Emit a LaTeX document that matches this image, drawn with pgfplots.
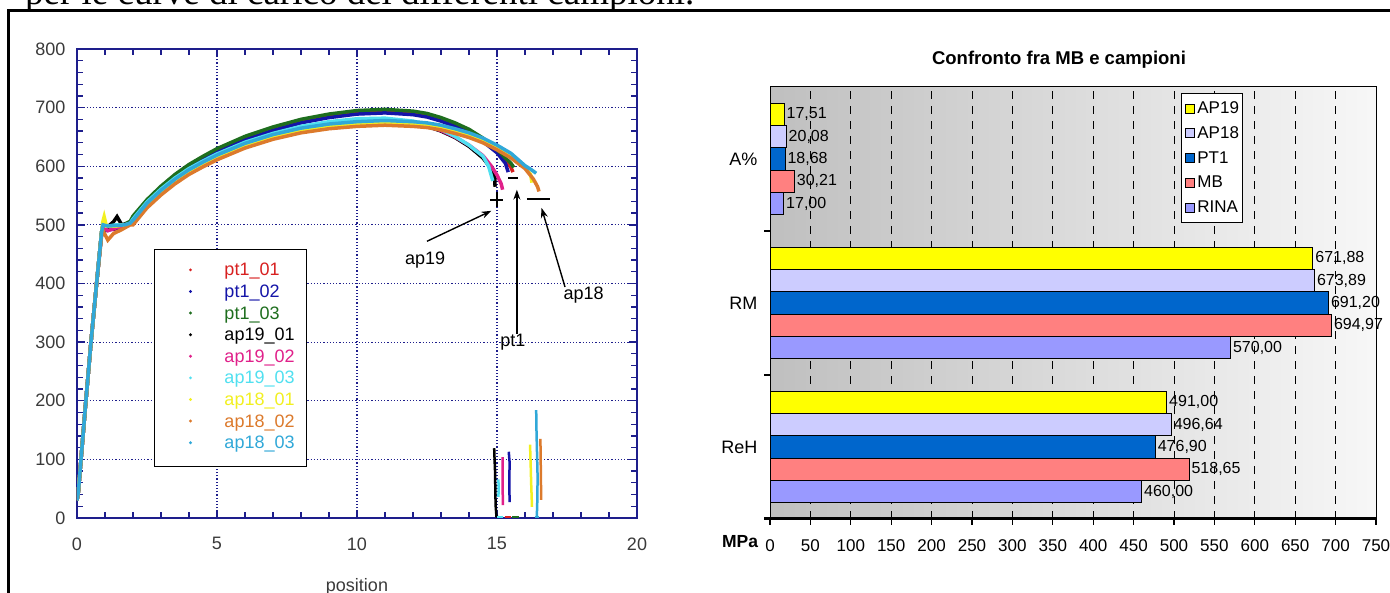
\documentclass[border=0pt]{standalone}
\usepackage{pgfplots}
\pgfplotsset{compat=1.18}
\usepackage{fontspec}
\setmainfont{Liberation Sans}
\newfontfamily\timesfont{Liberation Serif}
\usetikzlibrary{arrows.meta}
\definecolor{navyc}{HTML}{1E1E8C}
\definecolor{lbl}{HTML}{3A3A3A}
\definecolor{c1}{HTML}{D82020}
\definecolor{c2}{HTML}{1414A8}
\definecolor{c3}{HTML}{1E6E1E}
\definecolor{c4}{HTML}{000000}
\definecolor{c5}{HTML}{E0208A}
\definecolor{c6}{HTML}{50E0F0}
\definecolor{c7}{HTML}{F2F020}
\definecolor{c8}{HTML}{DC7A2C}
\definecolor{c9}{HTML}{30A8D8}
\definecolor{bAPnine}{HTML}{FFFF00}
\definecolor{bAPeight}{HTML}{CCCCFF}
\definecolor{bPT}{HTML}{0066CC}
\definecolor{bMB}{HTML}{FF8080}
\definecolor{bRINA}{HTML}{9999FF}
\begin{document}
\begin{tikzpicture}
% clipped caption line of the page
\node[anchor=base west, inner sep=0pt, font=\timesfont\fontsize{37}{40}\selectfont] at (25pt,588pt) {per le curve di carico dei differenti campioni.};

% ---------------- left chart ----------------
\begin{axis}[
  at={(77pt,75pt)}, anchor=south west, scale only axis,
  width=560pt, height=469pt,
  xmin=0, xmax=20, ymin=0, ymax=800,
  xtick={0,5,10,15,20}, ytick={0,100,...,800},
  minor x tick num=4, minor y tick num=4,
  tick align=inside,
  major tick length=8pt, minor tick length=6pt,
  axis line style={navyc, line width=1.8pt},
  tick style={navyc, line width=1.3pt},
  grid=major, grid style={navyc, line width=1.2pt, dotted},
  tick label style={font=\fontsize{18}{18}\selectfont, text=lbl},
  /pgf/number format/assume math mode=true,
  xticklabel style={yshift=-16pt}, yticklabel style={xshift=-8pt},
  xlabel={position},
  xlabel style={at={(axis description cs:0.5,0)}, anchor=base, yshift=-74pt, font=\fontsize{18}{18}\selectfont, text=lbl},
  legend style={at={(0.1375,0.5736)}, anchor=north west, draw=black, line width=1pt, fill=white,
    font=\fontsize{18}{18}\selectfont, inner xsep=12pt, inner ysep=13.5pt, row sep=4.8pt, column sep=10pt,
    nodes={inner sep=0pt, text height=13pt, text depth=3.8pt}},
  legend cell align=left,
  legend image code/.code={\path[draw=none,fill=none] (0pt,0pt) -- (48pt,0pt); \fill[#1, draw=none] (24pt,1.5pt) circle (1.6pt);},
]
\addplot[c1, line width=3.5pt] coordinates {(0,30) (0.05,45) (0.1,75) (0.3,190) (0.5,300) (0.7,400) (0.88,488) (0.93,500) (1.0,495) (1.3,492) (1.6,497) (1.9,503) (2,512) (2.5,540) (3,563) (3.5,583) (4,600) (4.5,614) (5,627) (6,648) (7,664) (8,677) (9,686) (10,692) (11,694) (12,691) (12.5,687) (13,680) (13.5,671) (14,660) (14.5,645) (15,626) (15.3,610) (15.5,598) (15.57,590)};
\addlegendentry{\textcolor{c1}{pt1\_01}}
\addplot[c2, line width=3.5pt] coordinates {(0,30) (0.05,45) (0.1,75) (0.3,190) (0.5,300) (0.7,400) (0.88,486) (0.93,498) (1.0,490) (1.3,493) (1.6,497) (1.9,502) (2,509) (2.5,537) (3,560) (3.5,580) (4,597) (4.5,611) (5,624) (6,645) (7,661) (8,674) (9,683) (10,689) (11,691) (12,688) (12.5,684) (13,677) (13.5,668) (14,657) (14.5,642) (15,623) (15.3,605) (15.4,590)};
\addlegendentry{\textcolor{c2}{pt1\_02}}
\addplot[c3, line width=3.5pt] coordinates {(0,30) (0.05,45) (0.1,75) (0.3,190) (0.5,300) (0.7,400) (0.88,488) (0.93,500) (1.0,496) (1.3,494) (1.6,499) (1.9,506) (2,515) (2.5,543) (3,566) (3.5,586) (4,603) (4.5,617) (5,630) (6,651) (7,667) (8,680) (9,689) (10,695) (11,697) (12,694) (12.5,690) (13,683) (13.5,674) (14,663) (14.5,648) (15,629) (15.3,614) (15.5,605) (15.6,598)};
\addlegendentry{\textcolor{c3}{pt1\_03}}
\addplot[c4, line width=3.5pt] coordinates {(0,30) (0.05,45) (0.1,75) (0.3,190) (0.5,300) (0.7,400) (0.88,488) (0.93,500) (1.1,497) (1.3,505) (1.43,514) (1.6,500) (1.9,503) (2,507) (2.5,536) (3,558) (3.5,577) (4,593) (4.5,606) (5,618) (6,638) (7,653) (8,664) (9,672) (10,677) (11,678) (12,673) (12.5,668) (13,660) (13.5,649) (14,634) (14.5,614) (14.85,592) (14.92,580) (14.93,565)};
\addlegendentry{\textcolor{c4}{ap19\_01}}
\addplot[c5, line width=3.5pt] coordinates {(0,30) (0.05,45) (0.1,75) (0.3,190) (0.5,300) (0.7,400) (0.88,486) (0.93,497) (1.1,490) (1.4,495) (1.7,498) (1.9,502) (2,505) (2.5,534) (3,556) (3.5,575) (4,591) (4.5,604) (5,616) (6,636) (7,651) (8,662) (9,670) (10,675) (11,676) (12,672) (12.5,668) (13,661) (13.5,650) (14,636) (14.5,618) (14.8,600) (15,585) (15.15,570) (15.2,560)};
\addlegendentry{\textcolor{c5}{ap19\_02}}
\addplot[c6, line width=3.5pt] coordinates {(0,30) (0.05,45) (0.1,75) (0.3,190) (0.5,300) (0.7,400) (0.88,488) (0.93,502) (1.1,498) (1.4,500) (1.7,500) (1.9,503) (2,510) (2.5,539) (3,561) (3.5,580) (4,596) (4.5,609) (5,621) (6,641) (7,656) (8,668) (9,676) (10,681) (11,682) (12,677) (12.5,671) (13,663) (13.5,651) (14,636) (14.5,617) (14.7,600) (14.85,575)};
\addlegendentry{\textcolor{c6}{ap19\_03}}
\addplot[c7, line width=3.5pt] coordinates {(0,30) (0.05,45) (0.1,75) (0.3,190) (0.5,300) (0.7,400) (0.88,488) (0.92,505) (0.97,514) (1.05,498) (1.4,498) (1.7,500) (1.9,502) (2,505) (2.5,534) (3,556) (3.5,575) (4,591) (4.5,604) (5,616) (6,636) (7,651) (8,662) (9,669) (10,673) (11,675) (12,673) (12.5,671) (13,667) (13.5,661) (14,654) (14.5,645) (15,633) (15.5,619) (15.8,607) (16,598) (16.2,586) (16.25,572)};
\addlegendentry{\textcolor{c7}{ap18\_01}}
\addplot[c8, line width=3.5pt] coordinates {(0,30) (0.05,45) (0.1,75) (0.3,190) (0.5,300) (0.7,400) (0.88,482) (0.93,490) (1.1,474) (1.3,485) (1.6,492) (1.9,500) (2,500) (2.5,529) (3,551) (3.5,570) (4,586) (4.5,599) (5,611) (6,631) (7,646) (8,657) (9,664) (10,668) (11,670) (12,668) (12.5,666) (13,662) (13.5,656) (14,649) (14.5,640) (15,628) (15.5,614) (16,596) (16.3,578) (16.45,565) (16.5,557)};
\addlegendentry{\textcolor{c8}{ap18\_02}}
\addplot[c9, line width=3.5pt] coordinates {(0,30) (0.05,45) (0.1,75) (0.3,190) (0.5,300) (0.7,400) (0.88,488) (0.93,500) (1.1,498) (1.4,499) (1.7,500) (1.9,503) (2,508) (2.5,537) (3,559) (3.5,578) (4,594) (4.5,607) (5,619) (6,639) (7,654) (8,665) (9,672) (10,676) (11,678) (12,676) (12.5,674) (13,670) (13.5,664) (14,657) (14.5,648) (15,636) (15.5,622) (16,601) (16.2,595) (16.4,588)};
\addlegendentry{\textcolor{c9}{ap18\_03}}
% fracture segments
\addplot[c4, line width=2.5pt, forget plot] coordinates {(14.9,119) (14.91,104) (14.93,80) (14.94,50) (14.95,22) (14.98,3) (15.05,1)};
\addplot[c6, line width=2.5pt, forget plot] coordinates {(15.05,66) (15.06,50) (15.05,36)};
\addplot[c6, line width=2.5pt, forget plot] coordinates {(15.0,1) (15.2,1)};
\addplot[c5, line width=2.5pt, forget plot] coordinates {(15.2,104) (15.2,60) (15.21,22)};
\addplot[c2, line width=2.5pt, forget plot] coordinates {(15.42,113) (15.45,95) (15.44,60) (15.45,27)};
\addplot[c1, line width=2.5pt, forget plot] coordinates {(15.3,2) (15.5,2)};
\addplot[c3, line width=2.5pt, forget plot] coordinates {(15.55,2) (15.8,2)};
\addplot[c7, line width=2.5pt, forget plot] coordinates {(16.18,125) (16.2,95) (16.22,60) (16.25,19)};
\addplot[c8, line width=2.5pt, forget plot] coordinates {(16.55,135) (16.56,100) (16.57,60) (16.58,31)};
\addplot[c9, line width=2.5pt, forget plot] coordinates {(16.4,184) (16.41,150) (16.43,110) (16.45,70) (16.44,30) (16.43,14) (16.42,1)};
\addplot[c9, line width=2.5pt, forget plot] coordinates {(16.35,1) (16.5,1)};
% annotations
\draw[line width=1.4pt, -{Stealth[length=10pt,width=7pt]}] (axis cs:12.5,472) -- (axis cs:14.8,524);
\node[font=\fontsize{18}{18}\selectfont] at (axis cs:12.43,440) {ap19};
\draw[line width=1.4pt, -{Stealth[length=10pt,width=7pt]}] (axis cs:15.71,314) -- (axis cs:15.71,560);
\node[font=\fontsize{18}{18}\selectfont] at (axis cs:15.57,300) {pt1};
\draw[line width=1.4pt, -{Stealth[length=10pt,width=7pt]}] (axis cs:17.43,394) -- (axis cs:16.59,529);
\node[font=\fontsize{18}{18}\selectfont] at (axis cs:18.09,380) {ap18};
\draw[line width=2pt] (axis cs:14.75,543) -- (axis cs:15.22,543);
\draw[line width=2pt] (axis cs:15.0,531) -- (axis cs:15.0,556);
\draw[line width=2pt] (axis cs:15.4,580) -- (axis cs:15.75,580);
\draw[line width=2pt] (axis cs:16.07,544) -- (axis cs:16.9,544);
\end{axis}

% ---------------- right chart ----------------
\begin{axis}[
  at={(770pt,74pt)}, anchor=south west, scale only axis,
  width=606pt, height=432pt,
  xbar, bar width=0.155,
  xmin=0, xmax=750, ymin=-0.5, ymax=2.5,
  xtick={0,50,...,750}, xtick pos=left, xtick align=outside,
  ytick={0.5,1.5}, yticklabels={}, ytick pos=left, ytick align=outside,
  extra y ticks={0,1,2}, extra y tick labels={ReH,RM,A\%},
  extra y tick style={major tick length=0pt, yticklabel style={xshift=-9pt}},
  major tick length=6pt,
  tick style={black, line width=1.2pt},
  xmajorgrids=true, ymajorgrids=false,
  grid style={black, line width=1pt, dash pattern=on 8pt off 7pt},
  axis line style={black, line width=1pt},
  axis background/.style={left color=black!25, right color=black!3},
  tick label style={font=\fontsize{17}{17}\selectfont},
  yticklabel style={font=\fontsize{18}{18}\selectfont},
  /pgf/number format/assume math mode=true,
  xticklabel style={yshift=-11pt},
  point meta=x,
  nodes near coords={\pgfmathprintnumber[fixed,fixed zerofill,precision=2,use comma]{\pgfplotspointmeta}},
  nodes near coords style={font=\fontsize{16}{16}\selectfont, anchor=west, inner sep=2pt},
  clip=false,
  legend style={at={(0.678,0.986)}, anchor=north west, draw=black, line width=1pt, fill=white,
    font=\fontsize{17}{17}\selectfont, inner xsep=4pt, inner ysep=8pt, row sep=10.8pt, column sep=2pt,
    nodes={inner sep=0pt, text height=12pt, text depth=2pt}},
  legend cell align=left,
  legend image code/.code={\draw[#1, line width=1pt] (0pt,-4.5pt) rectangle (9pt,4.5pt);},
]
\addplot[fill=bAPnine, draw=black, line width=1pt, bar shift=0.31] coordinates {(491.00,0) (671.88,1) (17.51,2)};
\addlegendentry{AP19}
\addplot[fill=bAPeight, draw=black, line width=1pt, bar shift=0.155] coordinates {(496.64,0) (673.89,1) (20.08,2)};
\addlegendentry{AP18}
\addplot[fill=bPT, draw=black, line width=1pt, bar shift=0] coordinates {(476.90,0) (691.20,1) (18.68,2)};
\addlegendentry{PT1}
\addplot[fill=bMB, draw=black, line width=1pt, bar shift=-0.155] coordinates {(518.65,0) (694.97,1) (30.21,2)};
\addlegendentry{MB}
\addplot[fill=bRINA, draw=black, line width=1pt, bar shift=-0.31] coordinates {(460.00,0) (570.00,1) (17.00,2)};
\addlegendentry{RINA}
\draw[line width=3pt] ([xshift=-6pt]rel axis cs:0,0) -- ([xshift=1pt]rel axis cs:1,0);
\end{axis}

\node[font=\bfseries\fontsize{18.5}{18.5}\selectfont] at (1059pt,533pt) {Confronto fra MB e campioni};
\node[font=\bfseries\fontsize{17.5}{17.5}\selectfont] at (740pt,51pt) {MPa};

% page frame
\draw[line width=3pt] (8.5pt,-5pt) -- (8.5pt,582.5pt) -- (1400pt,582.5pt);

\pgfresetboundingbox
\useasboundingbox (0pt,0pt) rectangle (1390pt,593pt);
\end{tikzpicture}
\end{document}
